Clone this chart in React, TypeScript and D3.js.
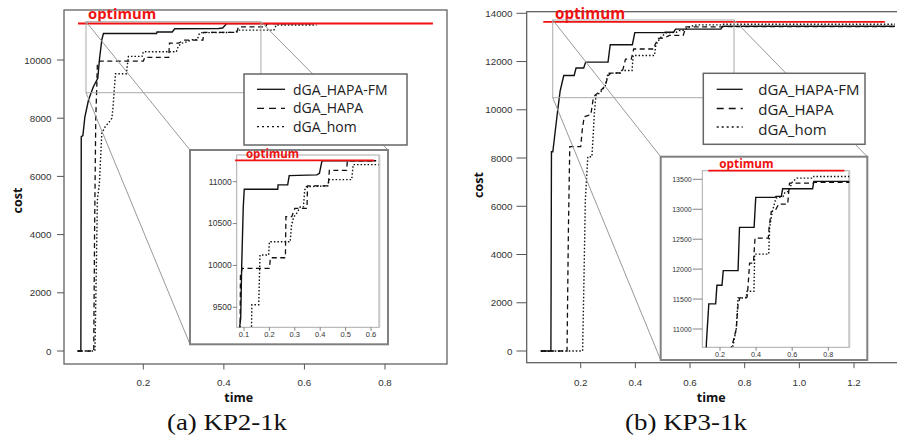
import React from "react";
import * as d3 from "d3";

type Pt = [number, number];

const W = 897;
const H = 448;

// ---------- KP2-1k (time, cost) ----------
const kp2FM: Pt[] = [
  [0.037, 0], [0.045, 0], [0.046, 7365], [0.05, 7400], [0.055, 8050], [0.064, 8625],
  [0.076, 9082], [0.087, 9370], [0.091, 10000], [0.097, 10690], [0.101, 10910],
  [0.233, 10910], [0.234, 10962], [0.272, 10962], [0.278, 11073], [0.387, 11081],
  [0.397, 11100], [0.407, 11250], [0.62, 11250],
];
const kp2HAPA: Pt[] = [
  [0.037, 0], [0.077, 0], [0.079, 4000], [0.082, 8000], [0.084, 8855], [0.086, 9880],
  [0.093, 9964], [0.2, 9964], [0.204, 10092], [0.263, 10092], [0.265, 10582],
  [0.288, 10582], [0.3, 10682], [0.348, 10682], [0.35, 10950], [0.432, 10950],
  [0.436, 11136], [0.504, 11136], [0.507, 11250], [0.62, 11250],
];
const kp2Hom: Pt[] = [
  [0.037, 0], [0.08, 0], [0.083, 2500], [0.086, 5190], [0.091, 5760], [0.097, 7480],
  [0.105, 7700], [0.117, 7900], [0.122, 8000], [0.125, 8400], [0.128, 9000],
  [0.131, 9530], [0.158, 9530], [0.163, 10124], [0.197, 10124], [0.2, 10283],
  [0.282, 10283], [0.287, 10480], [0.296, 10582], [0.303, 10600], [0.322, 10700],
  [0.334, 10700], [0.339, 10900], [0.345, 10940], [0.43, 10950], [0.434, 11025],
  [0.524, 11025], [0.53, 11204], [0.63, 11204],
];
const kp2Optimum = 11255;
const kp2XTicks = [0.2, 0.4, 0.6, 0.8];
const kp2YTicks = [0, 2000, 4000, 6000, 8000, 10000];
const kp2InsetXTicks = [0.1, 0.2, 0.3, 0.4, 0.5, 0.6];
const kp2InsetYTicks = [9500, 10000, 10500, 11000];

// ---------- KP3-1k (time, cost) ----------
const kp3FM: Pt[] = [
  [0.054, 0], [0.091, 0], [0.093, 8260], [0.098, 8260], [0.116, 10000], [0.125, 10790],
  [0.138, 11420], [0.176, 11420], [0.183, 11730], [0.211, 11730], [0.218, 11975],
  [0.3, 11975], [0.308, 12697], [0.389, 12697], [0.398, 13198], [0.505, 13198],
  [0.51, 13215], [0.54, 13215], [0.547, 13342], [0.713, 13342], [0.72, 13465],
  [1.35, 13465],
];
const kp3HAPA: Pt[] = [
  [0.054, 0], [0.15, 0], [0.155, 5000], [0.16, 8470], [0.2, 8470], [0.206, 9200],
  [0.213, 9714], [0.237, 9800], [0.245, 10400], [0.252, 10600], [0.27, 10760],
  [0.29, 11000], [0.3, 11400], [0.31, 11520], [0.35, 11530], [0.355, 11700],
  [0.364, 12100], [0.385, 12100], [0.394, 12519], [0.468, 12519], [0.472, 12700],
  [0.484, 12960], [0.505, 12970], [0.525, 13086], [0.575, 13086], [0.585, 13437],
  [0.717, 13437], [0.72, 13450], [1.35, 13450],
];
const kp3Hom: Pt[] = [
  [0.054, 0], [0.207, 0], [0.212, 3000], [0.217, 6260], [0.226, 8055], [0.241, 8055],
  [0.246, 9000], [0.25, 9853], [0.256, 10614], [0.27, 10690], [0.29, 11000],
  [0.3, 11517], [0.345, 11520], [0.35, 11630], [0.388, 11630], [0.392, 12250],
  [0.47, 12250], [0.475, 12690], [0.49, 12964], [0.51, 13186], [0.55, 13215],
  [0.56, 13280], [0.58, 13300], [0.6, 13450], [0.625, 13520], [0.717, 13520],
  [0.72, 13548], [1.35, 13548],
];
const kp3Optimum = 13645;
const kp3XTicks = [0.2, 0.4, 0.6, 0.8, 1.0, 1.2];
const kp3YTicks = [0, 2000, 4000, 6000, 8000, 10000, 12000, 14000];
const kp3InsetXTicks = [0.2, 0.4, 0.6, 0.8];
const kp3InsetYTicks = [11000, 11500, 12000, 12500, 13000, 13500];

const seriesNames = ["dGA_HAPA-FM", "dGA_HAPA", "dGA_hom"];
const captions = ["(a) KP2-1k", "(b) KP3-1k"];
const optimumLabel = "optimum";
const xTitle = "time";
const yTitle = "cost";

// ---------- styling ----------
const seriesStyle = [
  { dash: undefined as string | undefined, w: 1.4 },
  { dash: "5,3.5", w: 1.3 },
  { dash: "1.5,2", w: 1.4 },
];
const legendDash = [undefined, "7,5", "2,3"];
const SANS = "'Open Sans', 'Liberation Sans', sans-serif";
const TICKF = "'Liberation Sans', Arial, sans-serif";

type Cfg = {
  id: string;
  series: Pt[][];
  optimum: number;
  box: [number, number, number, number];
  xDom: [number, number]; xRange: [number, number];
  yDom: [number, number]; yRange: [number, number];
  xTicks: number[]; yTicks: number[];
  yTickX: [number, number]; yLabelX: number;
  xTickLen: number; xLabelY: number; tickFont: number;
  fmtX: (v: number) => string;
  optT: [number, number]; optLabel: [number, number]; optFont: number;
  zoomT: [number, number]; zoomC: [number, number];
  legend: [number, number, number, number]; legSample: [number, number]; legTextX: number;
  legRows: number[]; legBase: number[]; legFont: number;
  frame: [number, number, number, number];
  inner: [number, number, number, number];
  ixDom: [number, number]; ixRange: [number, number];
  iyDom: [number, number]; iyRange: [number, number];
  ixTicks: number[]; iyTicks: number[];
  iyLabelX: number; iTickFont: number; ixLabelY: number; ixFont: number;
  iOptT: [number, number]; iOptLabel: [number, number]; iOptFont: number;
  titleX: [number, number]; titleY: [number, number];
  caption: string; captionX: number; captionW: number;
};

const left: Cfg = {
  id: "a",
  series: [kp2FM, kp2HAPA, kp2Hom],
  optimum: kp2Optimum,
  box: [64, 10, 447, 364],
  xDom: [0.2, 0.8], xRange: [143.3, 385],
  yDom: [0, 10000], yRange: [351, 60],
  xTicks: kp2XTicks, yTicks: kp2YTicks,
  yTickX: [57, 64], yLabelX: 51.5,
  xTickLen: 5.5, xLabelY: 386, tickFont: 9.8,
  fmtX: d3.format(".1f"),
  optT: [0.038, 0.919], optLabel: [88, 18.5], optFont: 14.8,
  zoomT: [0.0578, 0.492], zoomC: [8876, 11316],
  legend: [244, 74, 407, 145], legSample: [257, 285], legTextX: 293,
  legRows: [89.3, 108.3, 126.7], legBase: [94.5, 113.3, 131.7], legFont: 14,
  frame: [190, 150, 388, 344.3],
  inner: [236.7, 155, 379.3, 327.3],
  ixDom: [0.1, 0.6], ixRange: [244, 371],
  iyDom: [9500, 11000], iyRange: [307.3, 181.7],
  ixTicks: kp2InsetXTicks, iyTicks: kp2InsetYTicks,
  iyLabelX: 231.7, iTickFont: 8.5, ixLabelY: 337, ixFont: 7.5,
  iOptT: [0.065, 0.612], iOptLabel: [246, 158.3], iOptFont: 11.5,
  titleX: [238.7, 401.7], titleY: [21.7, 200.5],
  caption: captions[0], captionX: 167, captionW: 120,
};

const right: Cfg = {
  id: "b",
  series: [kp3FM, kp3HAPA, kp3Hom],
  optimum: kp3Optimum,
  box: [526.7, 11.7, 910, 362.7],
  xDom: [0.2, 1.2], xRange: [580.7, 854],
  yDom: [0, 14000], yRange: [351, 13.3],
  xTicks: kp3XTicks, yTicks: kp3YTicks,
  yTickX: [516.5, 526.7], yLabelX: 512.5,
  xTickLen: 5.5, xLabelY: 385.5, tickFont: 9.8,
  fmtX: d3.format(".1f"),
  optT: [0.063, 1.313], optLabel: [555, 18.5], optFont: 15.2,
  zoomT: [0.0977, 0.761], zoomC: [10502, 13723],
  legend: [703.3, 73.3, 865, 144.3], legSample: [716.7, 742.7], legTextX: 758.3,
  legRows: [89.3, 108.5, 127], legBase: [95, 115, 135], legFont: 15,
  frame: [660.7, 156.7, 867.3, 360],
  inner: [702.3, 170.7, 849.3, 347.3],
  ixDom: [0.2, 0.8], ixRange: [720, 828.3],
  iyDom: [11000, 13500], iyRange: [329, 179.3],
  ixTicks: kp3InsetXTicks, iyTicks: kp3InsetYTicks,
  iyLabelX: 691.7, iTickFont: 7, ixLabelY: 356.5, ixFont: 7.2,
  iOptT: [0.135, 0.889], iOptLabel: [719.3, 168.3], iOptFont: 11.8,
  titleX: [711.3, 401.7], titleY: [483, 185],
  caption: captions[1], captionX: 625, captionW: 122,
};

function Panel({ c }: { c: Cfg }) {
  const x = d3.scaleLinear().domain(c.xDom).range(c.xRange);
  const y = d3.scaleLinear().domain(c.yDom).range(c.yRange);
  const ix = d3.scaleLinear().domain(c.ixDom).range(c.ixRange);
  const iy = d3.scaleLinear().domain(c.iyDom).range(c.iyRange);
  const mainLine = d3.line<Pt>().x((d) => x(d[0])).y((d) => y(d[1]));
  const insetLine = d3.line<Pt>().x((d) => ix(d[0])).y((d) => iy(d[1]));
  const [bx0, by0, bx1, by1] = c.box;
  const [nx0, ny0, nx1, ny1] = c.inner;
  const [fx0, fy0, fx1, fy1] = c.frame;
  const [lx0, ly0, lx1, ly1] = c.legend;
  const zx0 = x(c.zoomT[0]);
  const zx1 = x(c.zoomT[1]);
  const zy0 = y(c.zoomC[1]);
  const zy1 = y(c.zoomC[0]);
  const tickFmt = (v: number) => String(v);
  return (
    <g>
      <defs>
        <clipPath id={`clip-main-${c.id}`}>
          <rect x={bx0} y={by0} width={bx1 - bx0} height={by1 - by0} />
        </clipPath>
        <clipPath id={`clip-inset-${c.id}`}>
          <rect x={nx0} y={ny0} width={nx1 - nx0} height={ny1 - ny0} />
        </clipPath>
      </defs>

      {/* main series */}
      <g clipPath={`url(#clip-main-${c.id})`}>
        {c.series.map((s, i) => (
          <path key={i} d={mainLine(s) || ""} fill="none" stroke="#111"
            strokeWidth={seriesStyle[i].w} strokeDasharray={seriesStyle[i].dash} />
        ))}
      </g>

      {/* box & axes */}
      <rect x={bx0} y={by0} width={bx1 - bx0} height={by1 - by0} fill="none" stroke="#555" strokeWidth={1.2} />
      {c.yTicks.map((v) => (
        <g key={v}>
          <line x1={c.yTickX[0]} x2={c.yTickX[1]} y1={y(v)} y2={y(v)} stroke="#555" strokeWidth={1} />
          <text x={c.yLabelX} y={y(v) + 3.5} textAnchor="end" fontSize={c.tickFont} fontFamily={TICKF} fill="#333">
            {tickFmt(v)}
          </text>
        </g>
      ))}
      {c.xTicks.map((v) => (
        <g key={v}>
          <line x1={x(v)} x2={x(v)} y1={by1} y2={by1 + c.xTickLen} stroke="#555" strokeWidth={1} />
          <text x={x(v)} y={c.xLabelY} textAnchor="middle" fontSize={c.tickFont} fontFamily={TICKF} fill="#333">
            {c.fmtX(v)}
          </text>
        </g>
      ))}
      <text x={c.titleX[0]} y={c.titleX[1]} textAnchor="middle" fontSize={12.5} fontWeight="bold" fontFamily={SANS} fill="#111">
        {xTitle}
      </text>
      <text transform={`translate(${c.titleY[0]},${c.titleY[1]}) rotate(-90)`} textAnchor="middle" fontSize={12.5}
        fontWeight="bold" fontFamily={SANS} fill="#111">
        {yTitle}
      </text>

      {/* optimum */}
      <line x1={x(c.optT[0])} x2={x(c.optT[1])} y1={y(c.optimum)} y2={y(c.optimum)} stroke="#f01010" strokeWidth={1.8} />
      <text x={c.optLabel[0]} y={c.optLabel[1]} fontSize={c.optFont} fontWeight="bold" fontFamily={SANS} fill="#ee1111">
        {optimumLabel}
      </text>

      {/* zoom rectangle and connectors */}
      <rect x={zx0} y={zy0} width={zx1 - zx0} height={zy1 - zy0} fill="none" stroke="#aaa" strokeWidth={1} />
      <line x1={zx0} y1={zy0} x2={fx0} y2={fy0} stroke="#999" strokeWidth={1} />
      <line x1={zx0} y1={zy1} x2={fx0} y2={fy1} stroke="#999" strokeWidth={1} />
      <line x1={zx1} y1={zy0} x2={fx1} y2={fy0} stroke="#999" strokeWidth={1} />

      {/* legend */}
      <rect x={lx0} y={ly0} width={lx1 - lx0} height={ly1 - ly0} fill="#fff" stroke="#666" strokeWidth={1.5} />
      {seriesNames.map((n, i) => (
        <g key={n}>
          <line x1={c.legSample[0]} x2={c.legSample[1]} y1={c.legRows[i]} y2={c.legRows[i]} stroke="#111"
            strokeWidth={1.3} strokeDasharray={legendDash[i]} />
          <text x={c.legTextX} y={c.legBase[i]} fontSize={c.legFont} fontFamily={SANS} fill="#222">
            {n}
          </text>
        </g>
      ))}

      {/* inset */}
      <rect x={fx0} y={fy0} width={fx1 - fx0} height={fy1 - fy0} fill="#fff" stroke="#808080" strokeWidth={2} />
      <rect x={nx0} y={ny0} width={nx1 - nx0} height={ny1 - ny0} fill="#fff" stroke="#aaa" strokeWidth={1} />
      <line x1={nx1} x2={nx1} y1={ny0} y2={ny1} stroke="#c8c8c8" strokeWidth={2} />
      <g clipPath={`url(#clip-inset-${c.id})`}>
        {c.series.map((s, i) => (
          <path key={i} d={insetLine(s) || ""} fill="none" stroke="#111"
            strokeWidth={seriesStyle[i].w} strokeDasharray={seriesStyle[i].dash} />
        ))}
      </g>
      <line x1={ix(c.iOptT[0])} x2={ix(c.iOptT[1])} y1={iy(c.optimum)} y2={iy(c.optimum)} stroke="#f01010" strokeWidth={1.6} />
      <text x={c.iOptLabel[0]} y={c.iOptLabel[1]} fontSize={c.iOptFont} fontWeight="bold" fontFamily={SANS} fill="#ee1111">
        {optimumLabel}
      </text>
      {c.iyTicks.map((v) => (
        <g key={v}>
          <line x1={c.iyLabelX + 1} x2={nx0} y1={iy(v)} y2={iy(v)} stroke="#666" strokeWidth={0.8} />
          <text x={c.iyLabelX} y={iy(v) + 2.8} textAnchor="end" fontSize={c.iTickFont} fontFamily={TICKF} fill="#333">
            {tickFmt(v)}
          </text>
        </g>
      ))}
      {c.ixTicks.map((v) => (
        <g key={v}>
          <line x1={ix(v)} x2={ix(v)} y1={ny1} y2={ny1 + 3.5} stroke="#666" strokeWidth={0.8} />
          <text x={ix(v)} y={c.ixLabelY} textAnchor="middle" fontSize={c.ixFont} fontFamily={TICKF} fill="#333">
            {c.fmtX(v)}
          </text>
        </g>
      ))}

      {/* caption */}
      <text x={c.captionX} y={430} fontSize={23} fontFamily="'Liberation Serif', 'DejaVu Serif', serif" fill="#111"
        textLength={c.captionW} lengthAdjust="spacingAndGlyphs">
        {c.caption}
      </text>
    </g>
  );
}

export default function App() {
  return (
    <svg width={W} height={H} viewBox={`0 0 ${W} ${H}`}
      style={{ position: "absolute", left: 0, top: 0, background: "#fff", display: "block" }}>
      <rect x={0} y={0} width={W} height={H} fill="#fff" />
      <Panel c={left} />
      <Panel c={right} />
    </svg>
  );
}
